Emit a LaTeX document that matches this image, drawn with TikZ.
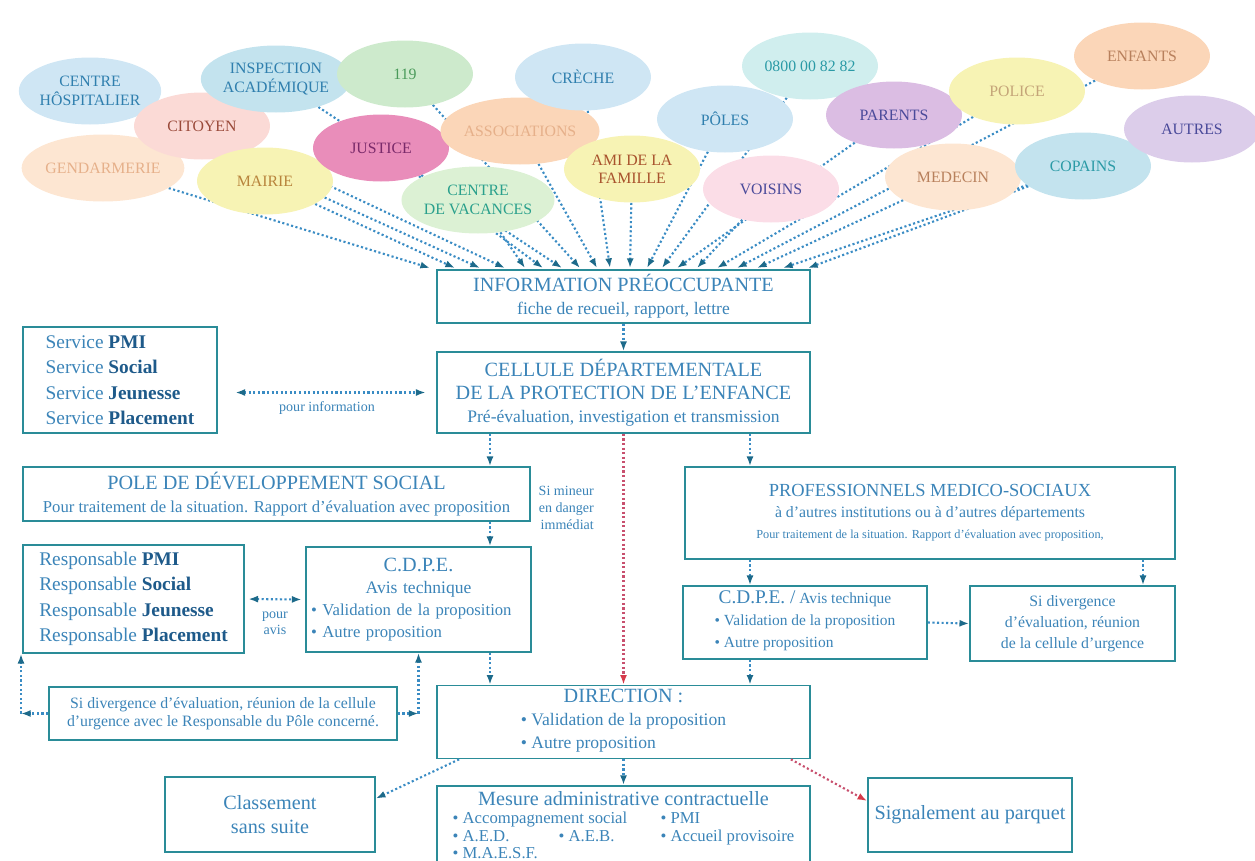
\documentclass[tikz,border=0pt]{standalone}
\usepackage{fontspec}
\setmainfont{Liberation Serif}
\usetikzlibrary{
  arrows.meta,
  backgrounds,
  positioning,
  shapes.geometric,
}
\definecolor{trait}{HTML}{2A8C98}
\definecolor{bleutexte}{HTML}{3B84B8}
\definecolor{bleufonce}{HTML}{1E5A8A}
\definecolor{pointille}{HTML}{3A8CC4}
\definecolor{pointe}{HTML}{1D6A8A}
\definecolor{rougeclair}{HTML}{C8506E}
\definecolor{rougevif}{HTML}{D63A4A}
% bulles
\definecolor{bleuclair}{HTML}{CFE6F4}
\definecolor{bleuvert}{HTML}{C3E3EE}
\definecolor{vertclair}{HTML}{CDEACC}
\definecolor{vertpale}{HTML}{DCF1D4}
\definecolor{roseclair}{HTML}{FBDAD6}
\definecolor{rosevif}{HTML}{E98DBA}
\definecolor{rosepale}{HTML}{FBDDE7}
\definecolor{pecheclair}{HTML}{FDE6D2}
\definecolor{peche}{HTML}{FBD6B8}
\definecolor{jaune}{HTML}{F7F3B4}
\definecolor{cyanclair}{HTML}{D0EEEE}
\definecolor{mauve}{HTML}{DBBDE3}
\definecolor{lilas}{HTML}{DCCDEA}
\definecolor{tbleu}{HTML}{2F7FAE}
\definecolor{tteal}{HTML}{2A9AA6}
\definecolor{tvert}{HTML}{4A9A5A}
\definecolor{tvertbleu}{HTML}{2AA08C}
\definecolor{tbrun}{HTML}{9A4A3A}
\definecolor{tprune}{HTML}{7A2A6A}
\definecolor{tviolet}{HTML}{4A4A9A}
\definecolor{tpeche}{HTML}{E6B08A}
\definecolor{tocre}{HTML}{B8843C}
\definecolor{tbrique}{HTML}{A8522C}
\definecolor{tbeige}{HTML}{C4A478}
\definecolor{tcuivre}{HTML}{B8805C}
\newcommand{\grasbleu}[1]{\textcolor{bleufonce}{\bfseries #1}}
\newcommand{\titrecaps}[1]{{\fontsize{11.5}{14}\selectfont #1}}
\tikzset{
  >={Latex[length=5.5pt,width=4pt,color=pointe]},
}

\begin{document}
\begin{tikzpicture}[x=0.02cm,y=-0.02cm,
      every node/.style={text=bleutexte},
      cadre/.style={draw=trait, line width=1pt, inner sep=2pt, align=center,
        font=\fontsize{10}{13}\selectfont},
      bulle/.style 2 args={ellipse, fill=#1, text=#2, minimum width=2.72cm,
        minimum height=1.34cm, inner sep=0pt, align=center,
        font=\fontsize{9}{10.5}\selectfont},
      lien/.style={->, line width=1.2pt, dash pattern=on 1.2pt off 1.4pt, draw=pointille},
      lienbi/.style={lien, <->},
      rouge/.style={lien, draw=rougeclair,
        >={Latex[length=5.5pt,width=4pt,color=rougevif]}, ->},
      petit/.style={font=\fontsize{8}{9.5}\selectfont}
    ]
      \path [use as bounding box, clip] (0,0) rectangle (1255,860);

      \node [bulle={pecheclair}{tpeche}] at (103,168) (gend) {GENDARMERIE};
      \node [bulle={bleuclair}{tbleu}] at (90,91) (hosp) {CENTRE\\HÔSPITALIER};
      \node [bulle={roseclair}{tbrun}] at (202,126) (citoyen) {CITOYEN};
      \node [bulle={jaune}{tocre}] at (265,181) (mairie) {MAIRIE};
      \node [bulle={bleuvert}{tbleu}] at (276,79) (inspection) {INSPECTION\\ACADÉMIQUE};
      \node [bulle={vertclair}{tvert}] at (405,74) (n119) {119};
      \node [bulle={rosevif}{tprune}] at (381,148) (justice) {JUSTICE};
      \node [bulle={vertpale}{tvertbleu}] at (478,200) (vacances) {CENTRE\\DE VACANCES};
      \node [bulle={peche}{tpeche}] at (520,131) (assoc) {ASSOCIATIONS};
      \node [bulle={bleuclair}{tbleu}] at (583,77) (creche) {CRÈCHE};
      \node [bulle={jaune}{tbrique}] at (632,169) (ami) {AMI DE LA\\FAMILLE};
      \node [bulle={bleuclair}{tbleu}] at (725,119) (poles) {PÔLES};
      \node [bulle={cyanclair}{tteal}] at (810,66) (numero) {0800 00 82 82};
      \node [bulle={rosepale}{tviolet}] at (771,189) (voisins) {VOISINS};
      \node [bulle={mauve}{tviolet}] at (894,115) (parents) {PARENTS};
      \node [bulle={pecheclair}{tcuivre}] at (953,177) (medecin) {MEDECIN};
      \node [bulle={jaune}{tbeige}] at (1017,91) (police) {POLICE};
      \node [bulle={peche}{tcuivre}] at (1142,56) (enfants) {ENFANTS};
      \node [bulle={bleuvert}{tteal}] at (1083,166) (copains) {COPAINS};
      \node [bulle={lilas}{tviolet}] at (1192,129) (autres) {AUTRES};

      \node [cadre, minimum width=7.46cm, minimum height=1.06cm] at (623.5,296.5) (info)
        {\titrecaps{INFORMATION PRÉOCCUPANTE}\\fiche de recueil, rapport, lettre};
      \node [cadre, minimum width=7.46cm, minimum height=1.62cm] at (623.5,392.5) (cellule)
        {\titrecaps{CELLULE DÉPARTEMENTALE}\\\titrecaps{DE LA PROTECTION DE L'ENFANCE}\\
         Pré-évaluation, investigation et transmission};
      \node [cadre, align=left, minimum width=3.88cm, minimum height=2.12cm,
        font=\fontsize{11}{14.5}\selectfont] at (120,380) (service)
        {Service \grasbleu{PMI}\\Service \grasbleu{Social}\\
         Service \grasbleu{Jeunesse}\\Service \grasbleu{Placement}};
      \node [cadre, minimum width=10.14cm, minimum height=1.08cm,
        font=\fontsize{9.5}{13}\selectfont] at (276.5,494) (pole)
        {\titrecaps{POLE DE DÉVELOPPEMENT SOCIAL}\\
         Pour traitement de la situation. Rapport d'évaluation avec proposition};
      \node [cadre, align=left, minimum width=4.42cm, minimum height=2.16cm,
        font=\fontsize{11}{14.5}\selectfont] at (133.5,599) (resp)
        {Responsable \grasbleu{PMI}\\Responsable \grasbleu{Social}\\
         Responsable \grasbleu{Jeunesse}\\Responsable \grasbleu{Placement}};
      \node [cadre, align=left, text width=4.3cm, inner xsep=0.1cm, minimum height=2.1cm,
        font=\fontsize{9.5}{12.5}\selectfont] at (418.5,599.5) (cdpeL)
        {{\centering\titrecaps{C.D.P.E.}\\{\fontsize{10}{12.5}\selectfont Avis technique}\par}
         \textbullet~Validation de la proposition\\\textbullet~Autre proposition};
      \node [cadre, minimum width=6.96cm, minimum height=1.06cm,
        font=\fontsize{9}{10.5}\selectfont] at (223,713.5) (divL)
        {Si divergence d'évaluation, réunion de la cellule\\
         d'urgence avec le Responsable du Pôle concerné.};
      \node [cadre, minimum width=9.8cm, minimum height=1.84cm,
        font=\fontsize{9}{12}\selectfont] at (930,513) (prof)
        {{\fontsize{10.5}{13}\selectfont PROFESSIONNELS MEDICO-SOCIAUX}\\
         à d'autres institutions ou à d'autres départements\\
         {\fontsize{7}{10}\selectfont Pour traitement de la situation. Rapport d'évaluation avec proposition,}};
      \node [cadre, minimum width=4.88cm, minimum height=1.46cm,
        font=\fontsize{8.8}{12.5}\selectfont] at (805,622.5) (cdpeR)
        {{\fontsize{11}{13}\selectfont C.D.P.E. /} Avis technique\\
         \begin{tabular}[t]{@{}l@{}}\textbullet~Validation de la proposition\\
         \textbullet~Autre proposition\end{tabular}};
      \node [cadre, minimum width=4.1cm, minimum height=1.5cm,
        font=\fontsize{9}{12}\selectfont] at (1072.5,623.5) (divR)
        {Si divergence\\d'évaluation, réunion\\de la cellule d'urgence};
      \node [cadre, minimum width=7.46cm, minimum height=1.4cm] at (623.5,722) (dir)
        {\titrecaps{DIRECTION~:}\\
         \begin{tabular}[t]{@{}l@{}}\textbullet~Validation de la proposition\\
         \textbullet~Autre proposition\end{tabular}};
      \node [cadre, minimum width=4.2cm, minimum height=1.5cm,
        font=\fontsize{11.5}{14}\selectfont] at (270,814.5) (classement)
        {Classement\\sans suite};
      \node [cadre, minimum width=7.46cm, inner ysep=3pt, anchor=north,
        font=\fontsize{9.5}{10.2}\selectfont] at (623.5,785) (mesure)
        {\titrecaps{Mesure administrative contractuelle}\\
         \begin{tabular}[t]{@{}p{2.12cm}@{}p{2.04cm}@{}l@{}}
         \multicolumn{2}{@{}l@{}}{\textbullet~Accompagnement social} & \textbullet~PMI\\
         \textbullet~A.E.D. & \textbullet~A.E.B. & \textbullet~Accueil provisoire\\
         \textbullet~M.A.E.S.F. & & \\
         \end{tabular}};
      \node [cadre, minimum width=4.08cm, minimum height=1.48cm,
        font=\fontsize{11.5}{14}\selectfont] at (970,815) (signal)
        {Signalement au parquet};

      \node [petit, anchor=east, align=right] at (600,508) (mineur)
        {Si mineur\\en danger\\immédiat};

      \begin{scope}[on background layer]
        \foreach \b/\x in {gend/430, mairie/455, hosp/480, citoyen/505, vacances/525,
            justice/543, inspection/562, n119/580, assoc/597, creche/610, ami/630,
            poles/647, numero/662, parents/677, voisins/697, police/717, enfants/737,
            medecin/757, autres/783, copains/808} {
          \coordinate (pt-\b) at (\x,268);
          \draw [lien] (\b) -- (pt-\b);
        }
      \end{scope}

      \coordinate (colL) at (490,0);
      \coordinate (colR) at (750,0);
      \coordinate (colD) at (1143,0);
      \coordinate (coinG) at (21,713.5);
      \coordinate (coinD) at (418.5,713.5);

      \draw [lien] (info) -- (cellule);
      \draw [lienbi, shorten <=10pt, shorten >=6pt] (service.east |- cellule.west) -- (cellule.west)
        node [midway, below=1pt, petit] (pourinfo) {pour information};
      \draw [rouge] (cellule.south) -- (dir.north);
      \draw [lien] (cellule.south -| colL) -- (pole.north -| colL);
      \draw [lien] (pole.south -| colL) -- (cdpeL.north -| colL);
      \draw [lien] (cdpeL.south -| colL) -- (dir.north -| colL);
      \draw [lienbi, shorten <=2pt, shorten >=2pt] (resp.east) -- (cdpeL.west)
        node [midway, below=3pt, petit, align=center] (pouravis) {pour\\avis};
      \draw [lien] (divL.west) -- (coinG);
      \draw [lien] (coinG) -- (coinG |- resp.south);
      \draw [lien] (divL.east) -- (coinD);
      \draw [lien] (coinD) -- (cdpeL.south);
      \draw [lien] (cellule.south -| colR) -- (prof.north -| colR);
      \draw [lien] (prof.south -| colR) -- (cdpeR.north -| colR);
      \draw [lien] (prof.south -| colD) -- (divR.north -| colD);
      \draw [lien] (cdpeR.east) -- (divR.west);
      \draw [lien] (cdpeR.south -| colR) -- (dir.north -| colR);
      \draw [lien] ([xshift=0.46cm]dir.south west) -- ([yshift=0.32cm]classement.east);
      \draw [lien] (dir.south) -- (mesure.north);
      \draw [rouge] ([xshift=-0.4cm]dir.south east) -- ([yshift=0.28cm]signal.west);
    \end{tikzpicture}
\end{document}
